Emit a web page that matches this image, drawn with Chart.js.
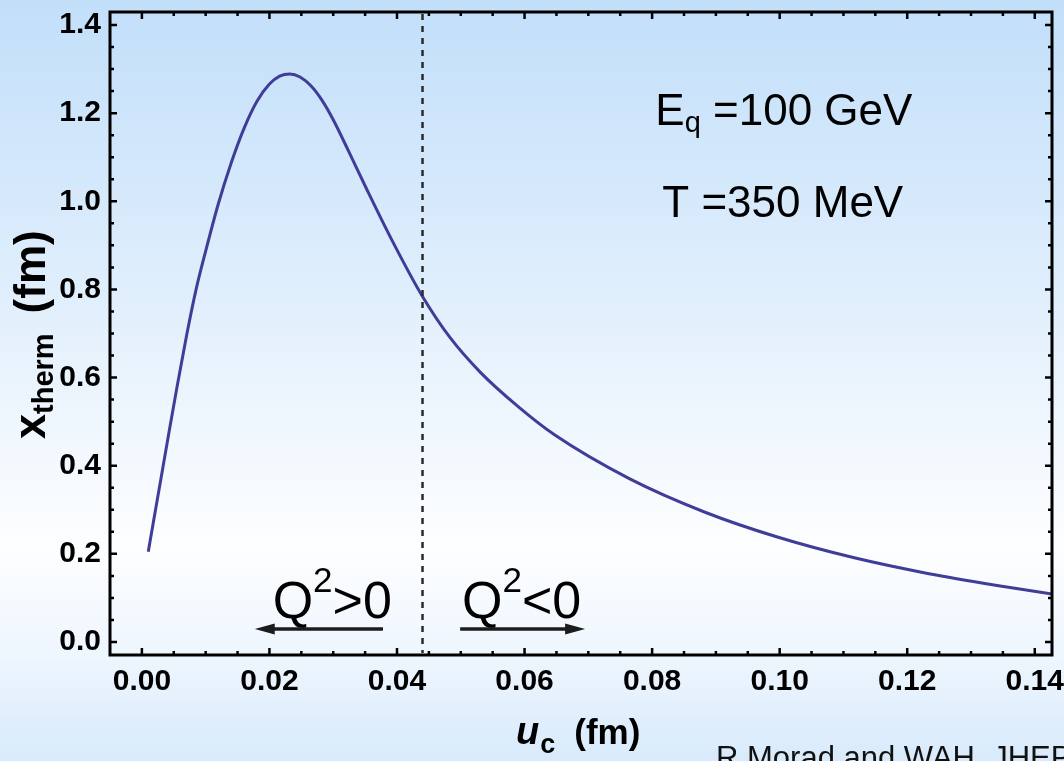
<!DOCTYPE html>
<html>
<head>
<meta charset="utf-8">
<script src="https://cdn.jsdelivr.net/npm/chart.js@4/dist/chart.umd.min.js"></script>
<style>
  html, body { margin: 0; padding: 0; background: #ffffff; }
  #wrap { width: 1064px; height: 761px; }
</style>
</head>
<body>
<div id="wrap"><canvas id="thermChart" width="1064" height="761"></canvas></div>
<script>
// thermalization distance vs. cutoff u_c
const uc = [0.0010, 0.0025, 0.0040, 0.0055, 0.0070, 0.0085, 0.0100, 0.0120, 0.0140, 0.0160,
            0.0180, 0.0200, 0.0216, 0.0232, 0.0248, 0.0265, 0.0282, 0.0300, 0.0325, 0.0352,
            0.0392, 0.0440, 0.0483, 0.0530, 0.0590, 0.0647, 0.0765, 0.0882, 0.0999, 0.1117,
            0.1234, 0.1351, 0.1427];
const xTherm = [0.205, 0.330, 0.455, 0.578, 0.695, 0.800, 0.887, 0.995, 1.087, 1.165,
                1.226, 1.266, 1.284, 1.289, 1.282, 1.262, 1.230, 1.185, 1.111, 1.029,
                0.912, 0.784, 0.691, 0.613, 0.534, 0.470, 0.370, 0.295, 0.237, 0.191,
                0.155, 0.126, 0.109];
const xTicks = [0, 0.02, 0.04, 0.06, 0.08, 0.10, 0.12, 0.14];
const yTicks = [0, 0.2, 0.4, 0.6, 0.8, 1.0, 1.2, 1.4];
const dividerU = 0.044;   // Q^2 = 0 boundary

const FONT = "'Liberation Sans', Arial, sans-serif";

let points = [];
for (let i = 0; i < uc.length; i++) {
  points.push({x: uc[i], y: xTherm[i]});
}

// whole-canvas background gradient
const backdrop = {
  id: 'backdrop',
  beforeDraw(chart) {
    const c = chart.ctx;
    const g = c.createLinearGradient(0, 0, 0, chart.height);
    g.addColorStop(0, 'rgb(194,223,250)');
    g.addColorStop(0.35, 'rgb(221,237,252)');
    g.addColorStop(0.72, 'rgb(253,254,255)');
    g.addColorStop(0.86, 'rgb(238,246,254)');
    g.addColorStop(1, 'rgb(216,234,251)');
    c.save();
    c.fillStyle = g;
    c.fillRect(0, 0, chart.width, chart.height);
    c.restore();
  }
};

// frame with inward ticks on all four sides
const frame = {
  id: 'frame',
  afterDatasetsDraw(chart) {
    const c = chart.ctx, a = chart.chartArea;
    const xs = chart.scales.x, ys = chart.scales.y;
    c.save();
    c.strokeStyle = '#000';
    c.lineWidth = 2.5;
    c.beginPath();
    for (let v = 0; v <= 0.1401; v += 0.005) {
      const px = xs.getPixelForValue(v);
      const len = Math.abs(v / 0.02 - Math.round(v / 0.02)) < 1e-6 ? 7 : 4;
      c.moveTo(px, a.bottom); c.lineTo(px, a.bottom - len);
      c.moveTo(px, a.top); c.lineTo(px, a.top + len);
    }
    for (let v = 0; v <= 1.4001; v += 0.05) {
      const py = ys.getPixelForValue(v);
      const len = Math.abs(v / 0.2 - Math.round(v / 0.2)) < 1e-6 ? 7 : 4;
      c.moveTo(a.left, py); c.lineTo(a.left + len, py);
      c.moveTo(a.right, py); c.lineTo(a.right - len, py);
    }
    c.stroke();
    c.lineWidth = 3;
    c.strokeRect(a.left, a.top, a.right - a.left, a.bottom - a.top);
    c.restore();
  }
};

// draws a run of [text, font, dy, gapBefore] pieces left to right
function drawRun(c, x, y, pieces) {
  for (const p of pieces) {
    x += p[3] || 0;
    c.font = p[1];
    c.fillText(p[0], x, y + (p[2] || 0));
    x += c.measureText(p[0]).width;
  }
}

function arrow(c, x0, x1, y) {
  const dir = Math.sign(x1 - x0);
  c.beginPath();
  c.moveTo(x0, y); c.lineTo(x1 - dir * 14, y);
  c.lineWidth = 3.5;
  c.stroke();
  c.beginPath();
  c.moveTo(x1, y);
  c.lineTo(x1 - dir * 20, y - 5.5);
  c.lineTo(x1 - dir * 20, y + 5.5);
  c.closePath();
  c.fill();
}

const notes = {
  id: 'notes',
  afterDraw(chart) {
    const c = chart.ctx, a = chart.chartArea;
    const xs = chart.scales.x, ys = chart.scales.y;
    c.save();
    c.fillStyle = '#000';
    c.textBaseline = 'alphabetic';
    c.textAlign = 'left';

    // Q^2 = 0 divider
    const dx = xs.getPixelForValue(dividerU);
    c.strokeStyle = '#2a2a2a';
    c.lineWidth = 2.5;
    c.setLineDash([6, 6]);
    c.beginPath();
    c.moveTo(dx, a.top + 2); c.lineTo(dx, a.bottom - 2);
    c.stroke();
    c.setLineDash([]);

    // parameters
    drawRun(c, xs.getPixelForValue(0.0805), ys.getPixelForValue(1.174), [
      ['E', '44px ' + FONT], ['q', '29px ' + FONT, 7], [' =100 GeV', '44px ' + FONT]
    ]);
    drawRun(c, xs.getPixelForValue(0.0816), ys.getPixelForValue(0.965), [
      ['T =350 MeV', '44px ' + FONT]
    ]);

    // regions either side of the divider
    const qy = ys.getPixelForValue(0.0545);
    drawRun(c, xs.getPixelForValue(0.0205), qy, [
      ['Q', '52px ' + FONT], ['2', '35px ' + FONT, -26], ['>0', '52px ' + FONT]
    ]);
    drawRun(c, xs.getPixelForValue(0.0502), qy, [
      ['Q', '52px ' + FONT], ['2', '35px ' + FONT, -26], ['<0', '52px ' + FONT]
    ]);
    c.strokeStyle = '#1c1c1c';
    c.fillStyle = '#1c1c1c';
    const ay = ys.getPixelForValue(0.0295);
    arrow(c, xs.getPixelForValue(0.0378), xs.getPixelForValue(0.0177), ay);
    arrow(c, xs.getPixelForValue(0.0499), xs.getPixelForValue(0.0695), ay);
    c.fillStyle = '#000';

    // x-axis title: u_c (fm)
    drawRun(c, 516, 744, [
      ['u', 'italic bold 38px ' + FONT], ['c', 'bold 27px ' + FONT, 9, 1], ['(fm)', 'bold 35px ' + FONT, 0, 19]
    ]);

    // y-axis title: x_therm (fm), rotated
    c.translate(45, 439);
    c.rotate(-Math.PI / 2);
    drawRun(c, 0, 0, [
      ['x', 'bold 45px ' + FONT], ['therm', 'bold 29px ' + FONT, 8], ['(fm)', 'bold 44px ' + FONT, 0, 20]
    ]);
    c.setTransform(1, 0, 0, 1, 0, 0);

    // citation
    c.font = '31px ' + FONT;
    c.fillStyle = '#111';
    c.fillText('R Morad and WAH, JHEP', 716, 768);
    c.restore();
  }
};

const ctx = document.getElementById('thermChart');
new Chart(ctx, {
  type: 'scatter',
  data: {
    datasets: [{
      data: points,
      showLine: true,
      pointRadius: 0,
      borderColor: '#403d98',
      borderWidth: 3,
      cubicInterpolationMode: 'monotone'
    }]
  },
  options: {
    responsive: false,
    animation: false,
    layout: {padding: {top: 12, right: 12, left: 0, bottom: 0}},
    plugins: {legend: {display: false}, tooltip: {enabled: false}},
    scales: {
      x: {
        type: 'linear',
        min: -0.005,
        max: 0.1427,
        afterBuildTicks: (s) => { s.ticks = xTicks.map(v => ({value: v})); },
        afterFit: (s) => { s.height = 106; s.paddingLeft = 0; s.paddingRight = 0; },
        grid: {display: false, drawTicks: false},
        border: {display: false},
        ticks: {
          padding: 9,
          color: '#000',
          font: {family: FONT, size: 30, weight: 'bold'},
          callback: (v) => v.toFixed(2)
        }
      },
      y: {
        type: 'linear',
        min: -0.0295,
        max: 1.4295,
        afterBuildTicks: (s) => { s.ticks = yTicks.map(v => ({value: v})); },
        afterFit: (s) => { s.width = 110; s.paddingTop = 0; s.paddingBottom = 0; },
        grid: {display: false, drawTicks: false},
        border: {display: false},
        ticks: {
          padding: 9,
          color: '#000',
          font: {family: FONT, size: 30, weight: 'bold'},
          callback: (v) => v.toFixed(1)
        }
      }
    }
  },
  plugins: [backdrop, frame, notes]
});
</script>
</body>
</html>
